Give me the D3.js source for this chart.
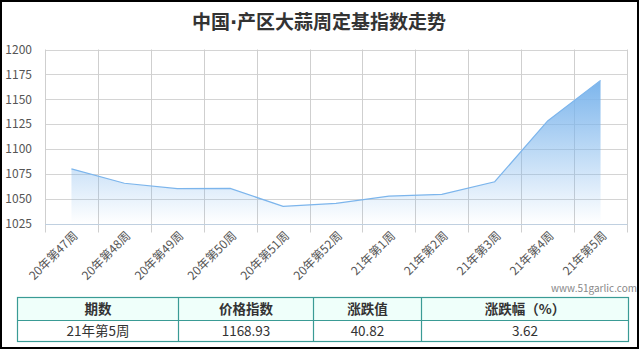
<!DOCTYPE html>
<html><head><meta charset="utf-8">
<script src="https://cdn.jsdelivr.net/npm/d3@7/dist/d3.min.js"></script>
<style>
html,body{margin:0;padding:0;background:#fff;}
svg{display:block;}
text{font-family:"Noto Sans CJK SC","Noto Sans",sans-serif;}
</style></head>
<body>
<svg id="chart" width="641" height="355"></svg>
<script>
const titleParts = ["中国", "·", "产区大蒜周定基指数走势"];
const categories = ["20年第47周","20年第48周","20年第49周","20年第50周","20年第51周","20年第52周","21年第1周","21年第2周","21年第3周","21年第4周","21年第5周"];
const values = [1080, 1065.5, 1060, 1060.3, 1042.2, 1045.2, 1052.5, 1054.3, 1067, 1128.11, 1168.93];
const yTicks = [1025, 1050, 1075, 1100, 1125, 1150, 1175, 1200];
const tableHeaders = ["期数", "价格指数", "涨跌值", "涨跌幅（%）"];
const tableRow = ["21年第5周", "1168.93", "40.82", "3.62"];
const watermark = "www.51garlic.com";

(function () {
const svg = d3.select("#chart");

svg.append("rect").attr("x",1).attr("y",1).attr("width",637).attr("height",347)
  .attr("fill","#fff").attr("stroke","#000").attr("stroke-width",2);

const t = svg.append("text").attr("x",319).attr("y",29).attr("text-anchor","middle")
  .attr("font-size",19).attr("font-weight","bold").attr("fill","#333");
t.selectAll("tspan").data(titleParts).join("tspan")
  .attr("font-family", (d, i) => i === 1 ? "\"DejaVu Sans\",sans-serif" : null)
  .text(d => d);

const pL = 45, pR = 627, pT = 49.5, pB = 223.5;
const x = d3.scaleBand().domain(categories).range([pL, pR]).padding(0);
const y = d3.scaleLinear().domain([1025, 1200]).range([pB, pT]);

svg.append("g").selectAll("line").data(yTicks.filter(d => d > 1025)).join("line")
  .attr("x1", pL).attr("x2", pR)
  .attr("y1", d => Math.round(y(d)) + 0.5).attr("y2", d => Math.round(y(d)) + 0.5)
  .attr("stroke", "#d4d4d4").attr("stroke-width", 1);

const bounds = categories.map(c => x(c)).concat([pR]);
svg.append("g").selectAll("line").data(bounds).join("line")
  .attr("x1", d => Math.round(d) + 0.5).attr("x2", d => Math.round(d) + 0.5)
  .attr("y1", pT).attr("y2", pB + 9)
  .attr("stroke", "#cfcfcf").attr("stroke-width", 1);

const defs = svg.append("defs");
const grad = defs.append("linearGradient").attr("id","areaGrad")
  .attr("x1",0).attr("y1",0).attr("x2",0).attr("y2",1);
grad.append("stop").attr("offset","0%").attr("stop-color","#7cb5ec").attr("stop-opacity",1);
grad.append("stop").attr("offset","100%").attr("stop-color","#7cb5ec").attr("stop-opacity",0);

const cx = (d, i) => x(categories[i]) + x.bandwidth() / 2;
const area = d3.area().x(cx).y0(pB).y1(d => y(d));
svg.append("path").datum(values).attr("d", area).attr("fill","url(#areaGrad)");

const line = d3.line().x(cx).y(d => y(d));
svg.append("path").datum(values).attr("d", line)
  .attr("fill","none").attr("stroke","#7cb5ec").attr("stroke-width",1.2);

svg.append("line").attr("x1", pL).attr("x2", pR + 0.5)
  .attr("y1", Math.round(pB) + 0.5).attr("y2", Math.round(pB) + 0.5)
  .attr("stroke", "#c0d0e0").attr("stroke-width", 1);

const yAxis = d3.axisLeft(y).tickValues(yTicks).tickFormat(d3.format("d")).tickSize(0).tickPadding(0);
const gy = svg.append("g").attr("transform", "translate(32,0)").call(yAxis);
gy.select(".domain").remove();
gy.selectAll("text").attr("font-size", 12).attr("fill", "#555")
  .attr("font-family", "\"Noto Sans\",sans-serif");

const xAxis = d3.axisBottom(x).tickSize(0).tickPadding(0);
const gx = svg.append("g").attr("transform", `translate(0,${pB})`).call(xAxis);
gx.select(".domain").remove();
gx.selectAll("text")
  .attr("font-size", 12).attr("fill", "#555")
  .attr("text-anchor", "end")
  .attr("font-family", "\"Noto Sans CJK SC\",sans-serif")
  .attr("transform", "translate(4,10) rotate(-45)")
  .attr("dy", "0.35em").attr("y", 0).attr("x", 0);

svg.append("text").attr("x", 637).attr("y", 292).attr("text-anchor", "end")
  .attr("font-size", 10).attr("fill", "#888").attr("font-family", "\"Noto Sans\",sans-serif")
  .text(watermark);

const colX = [17.5, 178.5, 313.5, 421.5, 628.5];
const tTop = 297.5, tMid = 320.5, tBot = 341.5;
const tg = svg.append("g");
tg.append("rect").attr("x", colX[0]).attr("y", tTop)
  .attr("width", colX[4] - colX[0]).attr("height", tMid - tTop).attr("fill", "#effffa");
tg.append("rect").attr("x", colX[0]).attr("y", tTop)
  .attr("width", colX[4] - colX[0]).attr("height", tBot - tTop)
  .attr("fill", "none").attr("stroke", "#3a9b95").attr("stroke-width", 1.2);
tg.append("line").attr("x1", colX[0]).attr("x2", colX[4]).attr("y1", tMid).attr("y2", tMid)
  .attr("stroke", "#3a9b95").attr("stroke-width", 1.2);
tg.selectAll("line.col").data(colX.slice(1, 4)).join("line").attr("class","col")
  .attr("x1", d => d).attr("x2", d => d).attr("y1", tTop).attr("y2", tBot)
  .attr("stroke", "#3a9b95").attr("stroke-width", 1.2);
tg.selectAll("text.h").data(tableHeaders).join("text").attr("class","h")
  .attr("x", (d, i) => (colX[i] + colX[i + 1]) / 2)
  .attr("y", (tTop + tMid) / 2).attr("dy", "0.35em")
  .attr("text-anchor", "middle").attr("font-size", 13.5).attr("font-weight", "bold")
  .attr("fill", "#333").text(d => d);
tg.selectAll("text.r").data(tableRow).join("text").attr("class","r")
  .attr("x", (d, i) => (colX[i] + colX[i + 1]) / 2)
  .attr("y", (tMid + tBot) / 2).attr("dy", "0.35em")
  .attr("text-anchor", "middle").attr("font-size", 13.5)
  .attr("fill", "#333").text(d => d);
})();
</script>
</body></html>
